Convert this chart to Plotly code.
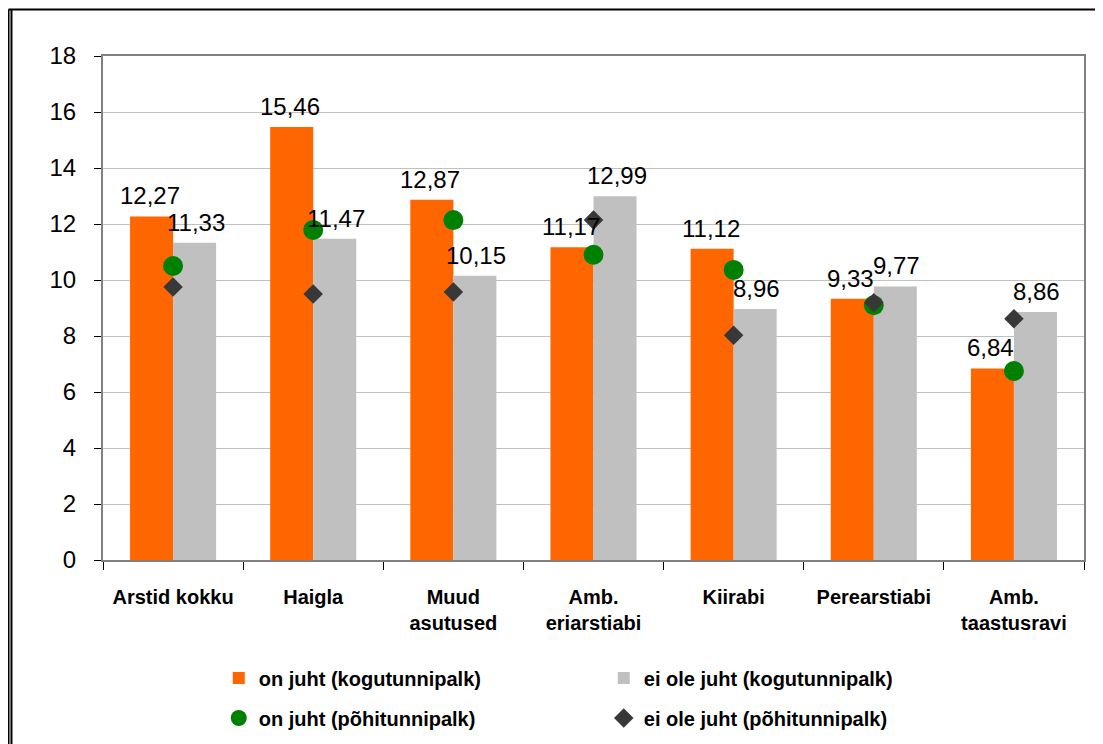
import plotly.graph_objects as go

# categories (x axis)
categories = ["Arstid kokku", "Haigla", "Muud<br>asutused", "Amb.<br>eriarstiabi",
              "Kiirabi", "Perearstiabi", "Amb.<br>taastusravi"]

# bar values (kogutunnipalk)
juht_kogu = [12.27, 15.46, 12.87, 11.17, 11.12, 9.33, 6.84]
mittejuht_kogu = [11.33, 11.47, 10.15, 12.99, 8.96, 9.77, 8.86]

# marker values (põhitunnipalk)
juht_pohi = [10.50, 11.79, 12.14, 10.90, 10.36, 9.10, 6.75]
mittejuht_pohi = [9.75, 9.50, 9.57, 12.14, 8.03, 9.19, 8.62]

y_ticks = [0, 2, 4, 6, 8, 10, 12, 14, 16, 18]

FONT = "Liberation Sans, Arial, sans-serif"

fig = go.Figure()

# orange bars
fig.add_trace(go.Bar(
    x=categories, y=juht_kogu,
    name="on juht (kogutunnipalk)",
    marker=dict(color="#FF6600", line=dict(width=0)),
    legend="legend"
))

# gray bars
fig.add_trace(go.Bar(
    x=categories, y=mittejuht_kogu,
    name="ei ole juht (kogutunnipalk)",
    marker=dict(color="#C0C0C0", line=dict(width=0)),
    legend="legend"
))

# green circles
fig.add_trace(go.Scatter(
    x=categories, y=juht_pohi,
    name="on juht (põhitunnipalk)",
    mode="markers",
    marker=dict(symbol="circle", size=20, color="#008000"),
    legend="legend2"
))

# dark diamonds
fig.add_trace(go.Scatter(
    x=categories, y=mittejuht_pohi,
    name="ei ole juht (põhitunnipalk)",
    mode="markers",
    marker=dict(symbol="diamond", size=15, color="#383838"),
    legend="legend2"
))

# value labels above the bars
for cat, v in zip(categories, juht_kogu):
    fig.add_annotation(x=cat, y=v, text=f"{v:.2f}".replace(".", ","),
                       showarrow=False, xshift=-23, yshift=5, yanchor="bottom",
                       font=dict(size=24, family=FONT, color="black"))
for cat, v in zip(categories, mittejuht_kogu):
    fig.add_annotation(x=cat, y=v, text=f"{v:.2f}".replace(".", ","),
                       showarrow=False, xshift=23, yshift=5, yanchor="bottom",
                       font=dict(size=24, family=FONT, color="black"))

# outer frame (top line and double left line)
frame = dict(color="black", width=2)
fig.add_shape(type="line", xref="paper", yref="paper",
              x0=-0.0963, x1=1.0122, y0=1.0923, y1=1.0923, line=frame)
fig.add_shape(type="line", xref="paper", yref="paper",
              x0=-0.0963, x1=-0.0963, y0=1.0923, y1=-0.40, line=frame)
fig.add_shape(type="line", xref="paper", yref="paper",
              x0=-0.0933, x1=-0.0933, y0=1.0923, y1=-0.40, line=frame)

legend_common = dict(
    orientation="h", entrywidth=340, entrywidthmode="pixels",
    font=dict(size=20, family=FONT, color="black", weight="bold"),
    bgcolor="rgba(0,0,0,0)", xanchor="left", yanchor="middle",
    itemclick=False
)

fig.update_layout(
    width=1103, height=744,
    margin=dict(l=95, r=27, t=48, b=192, autoexpand=False),
    plot_bgcolor="white", paper_bgcolor="white",
    separators=", ",
    barmode="group", bargap=0.386, bargroupgap=0,
    showlegend=True,
    legend=dict(x=0.118, y=-0.234, **legend_common),
    legend2=dict(x=0.118, y=-0.3135, **legend_common),
    font=dict(family=FONT, color="black"),
)

fig.update_xaxes(
    showline=True, linecolor="#808080", linewidth=2, mirror=True,
    ticks="outside", tickson="boundaries", ticklen=8, tickcolor="black",
    tickfont=dict(size=20, family=FONT, color="black", weight="bold"),
    ticklabelstandoff=18,
    showgrid=False
)

fig.update_yaxes(
    range=[0, 18], tickvals=y_ticks,
    showline=True, linecolor="#808080", linewidth=2, mirror=True,
    ticks="outside", ticklen=7, tickcolor="black",
    tickfont=dict(size=24, family=FONT, color="black"),
    ticklabelstandoff=13,
    showgrid=True, gridcolor="#C0C0C0", gridwidth=1,
    zeroline=False
)

fig.write_html("out.html")
